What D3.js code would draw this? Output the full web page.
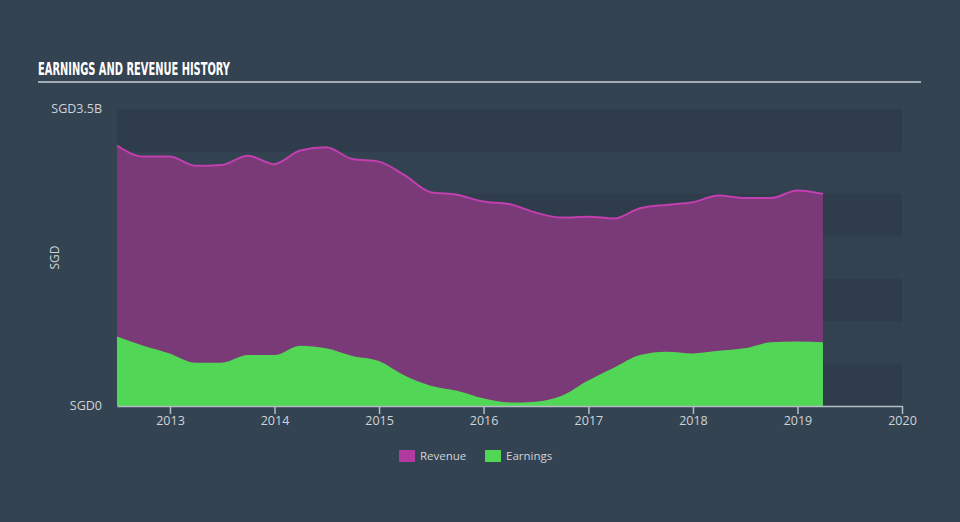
<!DOCTYPE html>
<html>
<head>
<meta charset="utf-8">
<script src="https://cdn.jsdelivr.net/npm/d3@7"></script>
<style>
  html, body { margin: 0; padding: 0; background: #344351; }
  svg { display: block; }
</style>
</head>
<body>
<div id="chart"></div>
<script>
// quarterly figures, SGD billions
var dates = ["2012-06-30","2012-09-30","2012-12-31","2013-03-31","2013-06-30","2013-09-30","2013-12-31",
    "2014-03-31","2014-06-30","2014-09-30","2014-12-31","2015-03-31","2015-06-30","2015-09-30","2015-12-31",
    "2016-03-31","2016-06-30","2016-09-30","2016-12-31","2017-03-31","2017-06-30","2017-09-30","2017-12-31",
    "2018-03-31","2018-06-30","2018-09-30","2018-12-31","2019-03-31"];
var revenue = [3.07, 2.94, 2.94, 2.83, 2.84, 2.95, 2.85, 3.01, 3.05, 2.91, 2.88, 2.72, 2.52, 2.49, 2.41,
    2.38, 2.28, 2.22, 2.23, 2.21, 2.33, 2.37, 2.40, 2.48, 2.45, 2.45, 2.54, 2.50];
var earnings = [0.82, 0.71, 0.62, 0.51, 0.51, 0.60, 0.60, 0.71, 0.68, 0.59, 0.53, 0.36, 0.24, 0.18, 0.09,
    0.04, 0.05, 0.12, 0.30, 0.45, 0.60, 0.64, 0.62, 0.65, 0.68, 0.75, 0.76, 0.75];
var yearTicks = [2013, 2014, 2015, 2016, 2017, 2018, 2019, 2020];
var bandSteps = [0, 0.5, 1, 1.5, 2, 2.5, 3];

var width = 960, height = 522;
var margin = {top: 109, right: 58, bottom: 116, left: 117};

var parse = d3.timeParse("%Y-%m-%d");
var data = dates.map(function (d, i) {
    return {date: parse(d), revenue: revenue[i], earnings: earnings[i]};
});

var svg = d3.select("#chart").append("svg")
    .attr("width", width)
    .attr("height", height);

var x = d3.scaleTime()
    .domain([parse("2012-06-30"), parse("2020-01-01")])
    .range([margin.left, width - margin.right]);
var y = d3.scaleLinear()
    .domain([0, 3.5])
    .range([height - margin.bottom, margin.top]);

// title
svg.append("text")
    .attr("x", 38)
    .attr("y", 75)
    .attr("fill", "#ffffff")
    .style("font-family", "'Liberation Sans Narrow', 'DejaVu Sans Condensed', sans-serif")
    .style("font-weight", "bold")
    .style("font-size", "18px")
    .attr("textLength", 192)
    .attr("lengthAdjust", "spacingAndGlyphs")
    .text("EARNINGS AND REVENUE HISTORY");

svg.append("line")
    .attr("x1", 38).attr("x2", 921)
    .attr("y1", 82).attr("y2", 82)
    .attr("stroke", "#a3acb5")
    .attr("stroke-width", 2);

// background bands
svg.append("g").selectAll("rect")
    .data(bandSteps)
    .enter().append("rect")
    .attr("x", margin.left)
    .attr("width", width - margin.right - margin.left)
    .attr("y", function (d) { return y(d + 0.5); })
    .attr("height", function (d) { return y(d) - y(d + 0.5); })
    .attr("fill", function (d, i) { return i % 2 === 0 ? "#2f3c4b" : "#334250"; });

var revArea = d3.area()
    .curve(d3.curveMonotoneX)
    .x(function (d) { return x(d.date); })
    .y0(y(0))
    .y1(function (d) { return y(d.revenue); });
var revLine = d3.line()
    .curve(d3.curveMonotoneX)
    .x(function (d) { return x(d.date); })
    .y(function (d) { return y(d.revenue); });
var earnArea = d3.area()
    .curve(d3.curveMonotoneX)
    .x(function (d) { return x(d.date); })
    .y0(y(0))
    .y1(function (d) { return y(d.earnings); });

svg.append("path")
    .datum(data)
    .attr("d", revArea)
    .attr("fill", "#7a3a78");
svg.append("path")
    .datum(data)
    .attr("d", revLine)
    .attr("fill", "none")
    .attr("stroke", "#c13fae")
    .attr("stroke-width", 2);
svg.append("path")
    .datum(data)
    .attr("d", earnArea)
    .attr("fill", "#52d655");

// x axis
var xAxis = svg.append("g")
    .attr("transform", "translate(0," + y(0) + ")")
    .call(d3.axisBottom(x)
        .tickValues(yearTicks.map(function (t) { return new Date(t, 0, 1); }))
        .tickFormat(d3.timeFormat("%Y"))
        .tickSizeInner(8)
        .tickSizeOuter(0)
        .tickPadding(4));
xAxis.select(".domain").attr("stroke", "#b5bdc6").attr("stroke-width", 1.5);
xAxis.selectAll(".tick line").attr("stroke", "#b5bdc6").attr("stroke-width", 1.5)
    .attr("y2", 8);
xAxis.selectAll(".tick text")
    .attr("fill", "#d0d4d8")
    .attr("y", 10)
    .style("font-family", "'Open Sans', sans-serif")
    .style("font-size", "12.5px");

// y labels
var yLabels = [{v: 3.5, t: "SGD3.5B"}, {v: 0, t: "SGD0"}];
svg.append("g").selectAll("text")
    .data(yLabels)
    .enter().append("text")
    .attr("x", 102)
    .attr("y", function (d) { return y(d.v); })
    .attr("dy", "0.35em")
    .attr("text-anchor", "end")
    .attr("fill", "#d0d4d8")
    .style("font-family", "'Open Sans', sans-serif")
    .style("font-size", "12.5px")
    .text(function (d) { return d.t; });

svg.append("text")
    .attr("transform", "translate(55," + y(1.75) + ") rotate(-90)")
    .attr("text-anchor", "middle")
    .attr("dy", "0.35em")
    .attr("fill", "#d0d4d8")
    .style("font-family", "'Open Sans', sans-serif")
    .style("font-size", "12px")
    .text("SGD");

// legend
var legend = [{name: "Revenue", color: "#b1399f", x: 399}, {name: "Earnings", color: "#52d655", x: 485}];
var lg = svg.append("g").selectAll("g")
    .data(legend)
    .enter().append("g")
    .attr("transform", function (d) { return "translate(" + d.x + ",450)"; });
lg.append("rect")
    .attr("width", 16).attr("height", 12)
    .attr("fill", function (d) { return d.color; });
lg.append("text")
    .attr("x", 21).attr("y", 6)
    .attr("dy", "0.35em")
    .attr("fill", "#d0d4d8")
    .style("font-family", "'Open Sans', sans-serif")
    .style("font-size", "11.5px")
    .text(function (d) { return d.name; });
</script>
</body>
</html>
